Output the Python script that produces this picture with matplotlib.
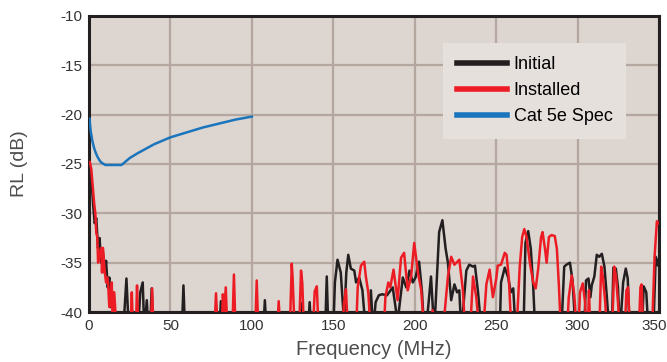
import matplotlib
matplotlib.use("Agg")
import matplotlib.pyplot as plt
import matplotlib.transforms as mtransforms

plt.rcParams['font.family'] = ['Liberation Sans', 'DejaVu Sans']
plt.rcParams['axes.unicode_minus'] = False

# Initial (black) return loss, MHz / dB  (values below -40 are off-scale)
initial_f = [0.5, 1.5, 2.5, 3.5, 4.5, 5.5, 6.5, 7.5, 8.5, 9.5, 10.5, 11.5, 12.5, 13.5, 14.5, 16,
             21, 23, 24.5, 30, 31.5, 33, 34, 35.5, 36.5, 37.5, 38.5, 39.5, 57, 58, 59, 80, 81, 82,
             107, 108, 109, 129.5, 130.6, 131.5, 134.5, 135.5, 136.5, 145, 146, 147,
             150, 151, 152.6, 154.6, 156.6, 158, 159.2, 160.8, 162.9, 164, 165.9, 167.9, 170,
             171.5, 173.1, 174.5, 176, 178, 180, 183, 186.5, 189.5, 192.7, 194.8, 196.8, 198.8,
             200.5, 202.7, 204.5, 205.8, 208, 210, 212, 215, 217, 219, 220.4, 222.4, 224.4, 226,
             227.4, 228.6, 231.7, 233.5, 235.8, 237, 238.9, 241, 252.2, 253, 255.3, 257.4, 259,
             260.5, 262, 266.8, 268, 269.7, 271.3, 272.8, 274, 290, 291.8, 293.2, 295.3, 296.9,
             298.8, 304, 305.2, 306.7, 307.9, 308.7, 310.3, 311.8, 313.3, 314.9, 316.5, 318,
             319.5, 321, 322, 323.5, 324.8, 326, 328, 329.6, 330.8, 332, 339.5, 340.6, 342.2,
             343.5, 346.5, 348, 349.4, 350]
initial_db = [-27.5, -26.5, -29, -31, -30.5, -33.5, -32.5, -35, -33.8, -36, -34.8, -37.5, -36.5, -39.5, -38, -42,
              -42, -36.6, -42, -42, -38, -37, -42, -38.8, -42, -42, -37.6, -42, -42, -37.3, -42, -42, -38.9, -42,
              -42, -38.8, -42, -42, -39.1, -42, -42, -39, -42, -42, -36.4, -42,
              -42, -37, -34.7, -36, -41, -36, -34.2, -35.6, -35.8, -37, -36.5, -37.8, -42,
              -42, -37.8, -42, -39, -38.3, -38.2, -38.3, -37.5, -41, -36.5, -37.5, -35.8, -37,
              -36.5, -34.9, -38, -42, -40, -36.4, -42, -31.9, -30.7, -33.6, -35, -38.8, -37.2, -38,
              -37.8, -42, -35.8, -35.2, -35.4, -35.3, -38, -42, -42, -37, -35.5, -36.5, -38,
              -37.6, -42, -42, -33, -31.8, -33.6, -37.5, -42, -42, -35.4, -35.2, -35, -36.8,
              -42, -42, -36.8, -36.6, -38.5, -37.3, -36.4, -34.2, -34.4, -34.1, -35.4, -38.5,
              -42, -42, -35.5, -35.6, -37.5, -42, -37, -35.6, -36.6, -42, -42, -37.4, -38,
              -42, -42, -34.4, -35.3, -34.6]

# Installed (red)
installed_f = [0.5, 1.4, 2.5, 3.2, 3.9, 4.5, 5.1, 5.6, 6.5, 7.5, 8, 8.6, 9.6, 10.5, 11.2, 11.7, 12.5, 13.3,
               14, 14.6, 15.5, 17, 25.5, 26.3, 27, 28.8, 29.5, 30.3, 38, 38.8, 39.6, 77, 78, 79, 81.5,
               82.2, 83, 84, 85, 88, 89, 90, 102, 103, 104, 115.5, 116.5, 117.5, 123.3, 124.5, 125,
               126.3, 129, 130.2, 131, 132, 137.5, 138.6, 139.9, 141, 142, 155.5, 156.7, 157.8, 159,
               164, 165, 167, 169, 170, 171.5, 173, 181, 182, 183.8, 185, 187, 189.5, 191.6, 193.5,
               195.7, 197.8, 199.7, 202, 204, 205.8, 209, 211, 212, 217.3, 220.4, 222.4, 224.4, 227.4,
               229.6, 231, 234, 235.8, 237.8, 239.7, 242, 244, 246, 248, 250, 251, 253, 255.3, 256.4,
               257.8, 259.4, 262.5, 264.5, 266, 267.3, 268.7, 270.7, 272.8, 274.3, 275.9, 277.6,
               278.5, 280, 281, 282.4, 284, 286, 287.3, 288.5, 289.8, 293.5, 294.6, 296.4, 298,
               299.5, 300.5, 301.5, 303.2, 304.6, 305.5, 306.3, 307, 307.8, 312.5, 313.3, 314.5,
               315.5, 317, 318, 321.2, 322.5, 323.6, 324.8, 326, 329, 330, 331, 332.3, 337.6, 338.6,
               339.3, 340.3, 345.7, 347.3, 348.7, 349.8]
installed_db = [-24.8, -25.5, -27.6, -29, -30, -32, -32.4, -35, -34, -33.5, -36, -33.5, -35.8, -37, -36.5, -37, -39.5, -38,
                -37, -42, -38, -42, -42, -38, -42, -42, -37.3, -42, -42, -37.6, -42, -42, -38.1, -42, -42,
                -38.2, -40, -37.5, -42, -42, -36.2, -42, -42, -36.8, -42, -42, -38.9, -42, -42, -35.1, -36.4,
                -42, -42, -35.8, -37.1, -42, -42, -37.9, -37.4, -42, -42, -42, -39, -37.7, -42,
                -42, -37.5, -35.3, -34.9, -36.4, -38, -42, -42, -38.5, -37, -37.5, -35.7, -38.8, -34.5, -34,
                -37.8, -36.4, -33, -36, -37.8, -42, -42, -39.8, -42, -42, -36.4, -34.4, -35.2, -34.7,
                -37.8, -42, -42, -36.4, -38.5, -42, -42, -37.2, -35.7, -38.5, -36.7, -35.3, -35.2, -34, -34.2,
                -36.6, -42, -42, -35.4, -32.4, -31.6, -32.4, -35, -37, -37.6, -35.5, -32.4,
                -31.9, -33.6, -35, -32.4, -32.2, -32.3, -33.6, -37.2, -42, -42, -38.5, -36.3, -38.3,
                -42, -42, -38, -37.1, -39, -42, -42, -37.8, -42, -42, -42, -35.4,
                -36.4, -39, -42, -42, -35.4, -36.4, -39, -42, -42, -37.8, -37.5, -42, -42, -37.5,
                -37.2, -42, -42, -34.4, -30.8, -31]

# Cat 5e return loss limit
spec_f = [0.3, 1, 2, 3, 4, 5, 6, 7, 8, 9, 10, 20, 25, 30, 40, 50, 60, 70, 80, 90, 100]
spec_db = [-20.4, -21.6, -22.6, -23.3, -23.8, -24.2, -24.5, -24.75, -24.9, -25.0, -25.1, -25.1,
           -24.4, -23.9, -23.0, -22.3, -21.8, -21.3, -20.9, -20.5, -20.2]

x_ticks = [0, 50, 100, 150, 200, 250, 300, 350]
y_ticks = [-40, -35, -30, -25, -20, -15, -10]

fig = plt.figure(figsize=(6.67, 3.62), dpi=100)
ax = fig.add_axes([0.1334, 0.138, 0.8546, 0.818])
ax.set_facecolor('#ddd5d0')

ax.plot(initial_f, initial_db, color='#231f20', lw=1.8, label='Initial', zorder=3)
ax.plot(installed_f, installed_db, color='#ed1c24', lw=1.8, label='Installed', zorder=3)
ax.plot(spec_f, spec_db, color='#1a75bc', lw=1.8, label='Cat 5e Spec', zorder=4)

ax.set_xlim(0, 350)
ax.set_ylim(-40, -10)
ax.set_xticks(x_ticks)
ax.set_yticks(y_ticks)
ax.grid(True, color='#b3a79f', lw=1.6)
ax.set_axisbelow(True)
ax.tick_params(axis='both', length=0, labelsize=11, colors='#333333', pad=5)
for s in ax.spines.values():
    s.set_color('#231f20')
    s.set_linewidth(2.2)

# last x label sits at the figure edge, nudge it a little inwards
last = ax.get_xticklabels()[-1]
last.set_transform(last.get_transform() + mtransforms.ScaledTranslation(-5 / 100, 0, fig.dpi_scale_trans))

ax.set_xlabel('Frequency (MHz)', fontsize=14.5, color='#4d4d4d', labelpad=5)
ax.set_ylabel('RL (dB)', fontsize=14, color='#4d4d4d', labelpad=23)

leg = ax.legend(loc='upper right', bbox_to_anchor=(0.942, 0.909), borderaxespad=0, fontsize=13,
                handlelength=2.8, frameon=True, fancybox=False, borderpad=0.75, labelspacing=0.5,
                handletextpad=0.35)
leg.get_frame().set_facecolor('#e6e0dd')
leg.get_frame().set_edgecolor('none')
leg.get_frame().set_alpha(1)
for line in leg.get_lines():
    line.set_linewidth(4)

fig.savefig('out.png', dpi=100)
